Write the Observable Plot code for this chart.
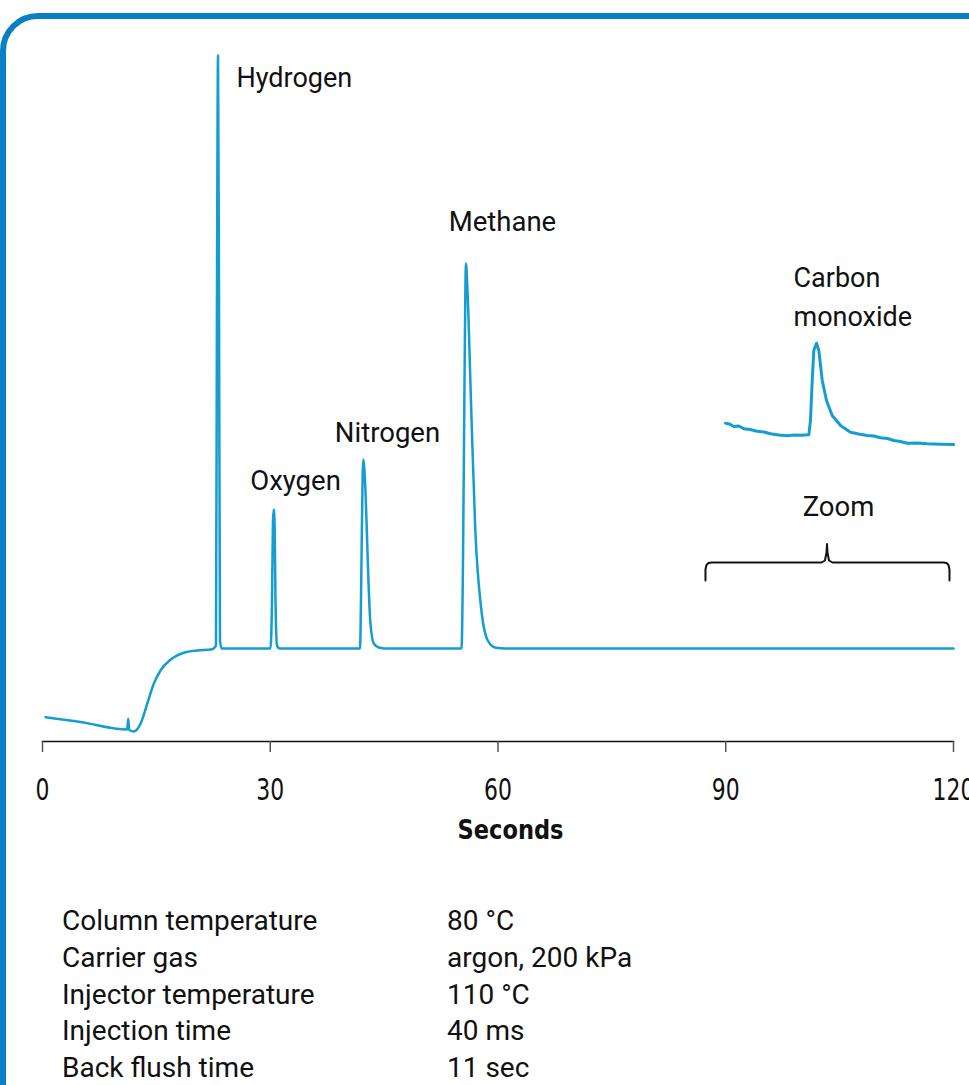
<!DOCTYPE html>
<html>
<head>
<meta charset="utf-8">
<script src="https://cdn.jsdelivr.net/npm/d3@7"></script>
<script src="https://cdn.jsdelivr.net/npm/@observablehq/plot@0.6"></script>
<style>
  html, body { margin: 0; padding: 0; background: #fff; width: 969px; height: 1085px; overflow: hidden; }
  #frame { position: absolute; left: 0; top: 13px; width: 1100px; height: 1200px; box-sizing: border-box;
           border: 6px solid #0a80c4; border-radius: 38px; }
  #chart { position: absolute; left: 0; top: 0; }
  #table { position: absolute; left: 62px; top: 903px; font-family: Roboto, sans-serif; font-size: 28px;
           line-height: 36.75px; color: #111; display: grid; grid-template-columns: 385px auto; }
</style>
</head>
<body>
<div id="frame"></div>
<div id="chart"></div>
<div id="table"></div>
<script>
// ---- Data ----
// Main chromatogram trace: time (s) and detector signal (arbitrary units, baseline = 0)
const traceTime = [
  0.40, 5.0, 11.16, 11.29, 11.42, 12.03, 12.91, 13.79, 14.66, 15.54, 16.86, 18.61, 20.38, 22.35,
  22.85, 22.98, 23.12, 23.25, 23.38, 23.58,
  27.0, 30.03, 30.23, 30.36, 30.47, 30.59, 30.69, 30.89, 31.22,
  36.0, 41.82, 42.02, 42.18, 42.28, 42.41, 42.54, 42.72, 42.90, 43.20, 43.64, 44.30, 45.18,
  50.0, 55.19, 55.39, 55.59, 55.78, 55.98, 56.47, 57.00, 57.80, 58.59, 59.60, 61.00,
  75.0, 90.0, 105.0, 120.0
];
const traceSignal = [
  -68.7, -73.5, -81, -70.3, -81.5, -83, -75.3, -55.3, -35.3, -22, -11.3, -4.3, -2, -0.7,
  3, 348, 593, 348, 8, 0,
  0, 0, 48, 128, 139, 118, 48, 3, 0,
  0, 0, 88, 178, 189, 178, 158, 118, 75, 25, 5, 1, 0,
  0, 0, 88, 268, 385, 358, 240, 120, 39, 9, 1, 0,
  0, 0, 0, 0
];
// Carbon monoxide zoomed trace (magnified, drawn above the 90–120 s range)
const insetTime = [
  89.97, 90.5, 91.06, 91.7, 92.38, 93.2, 94.14, 95.0, 95.89, 97.0, 98.09, 99.0, 99.85, 100.94,
  101.16, 101.39, 101.60, 101.96, 102.26, 102.71, 103.27, 104.02, 105.12, 106.43, 107.5, 108.63,
  109.5, 110.38, 111.3, 112.13, 113.0, 113.90, 115.2, 116.53, 118.3, 120.04
];
const insetSignal = [
  225.3, 224.5, 222, 222.5, 219.7, 219, 217.3, 216.5, 214.7, 213.5, 212.7, 213.5, 213.3, 213.7,
  228, 268, 298, 305.3, 298, 268, 248, 233, 223, 216.3, 214.5, 213,
  212.5, 210.7, 210, 208, 207, 205.3, 205.5, 204.7, 204.2, 204
];
// Brace under "Zoom"
const braceTime   = [87.33, 87.33, 87.46, 87.73, 88.12, 102.61, 103.07, 103.27, 103.34, 103.40, 103.60, 104.06, 118.68, 119.08, 119.34, 119.47, 119.47];
const braceSignal = [68, 79, 83.5, 85.5, 86, 86, 88, 96, 104.5, 96, 88, 86, 86, 85.5, 83.5, 79, 68];
// Peak labels
const labelText   = ["Hydrogen", "Oxygen", "Nitrogen", "Methane", "Carbon", "monoxide", "Zoom"];
const labelTime   = [25.55, 33.33, 45.44, 60.59, 98.92, 98.92, 104.85];
const labelSignal = [570, 167, 215, 426, 370, 331, 141];
const labelAnchor = ["start", "middle", "middle", "middle", "start", "start", "middle"];
// Axis
const xTicks = [0, 30, 60, 90, 120];
const xLabel = "Seconds";
// Conditions table
const paramNames  = ["Column temperature", "Carrier gas", "Injector temperature", "Injection time", "Back flush time"];
const paramValues = ["80 °C", "argon, 200 kPa", "110 °C", "40 ms", "11 sec"];

// ---- Build ----
const trace = traceTime.map((t, i) => ({t, v: traceSignal[i]}));
const inset = insetTime.map((t, i) => ({t, v: insetSignal[i]}));
const brace = braceTime.map((t, i) => ({t, v: braceSignal[i]}));
const labels = labelText.map((s, i) => ({s, t: labelTime[i], v: labelSignal[i], a: labelAnchor[i]}));

const lineColor = "#149dd0";
const labelFont = "Roboto, sans-serif";
const axisFont = "'DejaVu Sans', sans-serif";

const chart = Plot.plot({
  width: 969,
  height: 850,
  marginLeft: 42,
  marginRight: 16,
  marginTop: 0,
  marginBottom: 109,
  style: {background: "transparent", overflow: "visible"},
  x: {domain: [0, 120]},
  y: {domain: [-100, 600], range: [748, 48], axis: null},
  marks: [
    Plot.frame({anchor: "bottom", stroke: "#111", strokeWidth: 1.5}),
    Plot.axisX({ticks: xTicks, tickSize: 11, tickPadding: 26, stroke: "#555", strokeWidth: 1.5,
      fontSize: 30, fontFamily: axisFont, fill: "#111", label: null, tickFormat: d => String(d)}),
    Plot.text([xLabel], {frameAnchor: "bottom", lineAnchor: "middle", x: 61.65, dy: 88.7, fontSize: 27,
      fontWeight: "bold", fontFamily: axisFont, fill: "#111"}),
    Plot.line(trace, {x: "t", y: "v", stroke: lineColor, strokeWidth: 2.5, curve: "monotone-x"}),
    Plot.line(inset, {x: "t", y: "v", stroke: lineColor, strokeWidth: 3, curve: "linear"}),
    Plot.line(brace, {x: "t", y: "v", stroke: "#111", strokeWidth: 2, curve: "linear"}),
    Plot.text(labels.filter(d => d.a === "start"), {x: "t", y: "v", text: "s", textAnchor: "start",
      fontSize: 27, fontFamily: labelFont, fill: "#111"}),
    Plot.text(labels.filter(d => d.a === "middle"), {x: "t", y: "v", text: "s", textAnchor: "middle",
      fontSize: 27.5, fontFamily: labelFont, fill: "#111"})
  ]
});
document.getElementById("chart").appendChild(chart);

// Condensed look for the axis texts (the reference uses a condensed face)
d3.select(chart).selectAll("text").each(function () {
  const txt = this.textContent;
  const el = d3.select(this);
  if (xTicks.map(String).includes(txt)) {
    const tr = el.attr("transform") || "";
    el.attr("transform", tr + " scale(0.73,1)");
  } else if (txt === xLabel) {
    el.attr("textLength", 106).attr("lengthAdjust", "spacingAndGlyphs");
  }
});

const table = document.getElementById("table");
paramNames.forEach((name, i) => {
  const a = document.createElement("div"); a.textContent = name;
  const b = document.createElement("div"); b.textContent = paramValues[i];
  table.appendChild(a); table.appendChild(b);
});
</script>
</body>
</html>
